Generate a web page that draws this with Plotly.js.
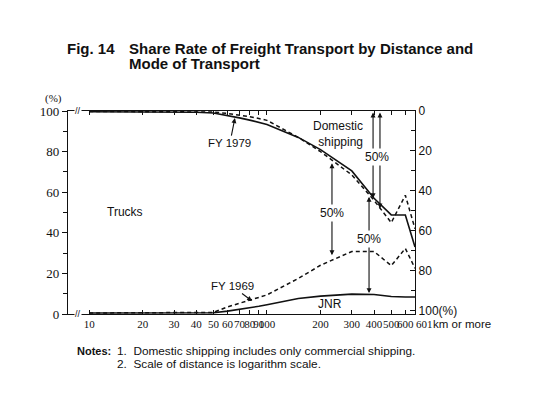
<!DOCTYPE html>
<html><head><meta charset="utf-8">
<script src="https://cdn.plot.ly/plotly-3.0.1.min.js"></script>
<style>html,body{margin:0;padding:0;background:#fff}</style>
</head><body><div id="chart" style="width:536px;height:398px"></div>
<script>
// Distance classes (km); the last value stands for the "601 km or more" class
const distanceKm = [10,20,30,40,50,60,70,80,90,100,150,200,300,400,500,600,680];
// Upper boundary = trucks + JNR share (i.e. 100 - domestic shipping share), %
const upper1979 = [99.6,99.6,99.5,99.4,99.0,97.8,96.6,95.5,94.5,93.4,87.0,81.0,70.5,57.0,48.8,48.8,33.0];
const upper1969 = [99.8,99.8,99.8,99.7,99.5,98.8,98.0,97.2,96.3,95.4,87.0,80.0,68.5,56.0,45.0,58.5,42.0];
// Lower boundary = JNR share, %
const jnr1979 = [0.5,0.5,0.5,0.5,0.6,1.4,2.2,3.0,3.8,4.6,7.6,8.8,9.8,9.6,8.6,8.4,8.4];
const jnr1969 = [0.5,0.5,0.5,0.5,0.8,3.5,5.3,6.9,8.2,9.4,17.5,24.0,30.8,30.8,23.8,32.3,22.5];

const xTickVals = [10,20,30,40,50,60,70,80,90,100,200,300,400,500,600,680];
const xTickText = ['10','20','30','40','50','60','70','80','90','100','200','300','400','500','600',''];
const lastClassLabel = '601';
const leftTickVals = [0,20,40,60,80,100];
const rightTickVals = [0,20,40,60,80,100];
const rightTickText = ['0','20','40','60','80','100(%)'];

const L = Math.log10;
const SANS = 'Liberation Sans, Arial, sans-serif';
const SERIF = 'Liberation Serif, Times New Roman, serif';
const px = (p) => (p - 68) / 347;          // pixel -> paper x
const py = (p) => (314 - p) / 203;         // pixel -> paper y

const solid = {color:'#111', width:1.6};
const dashed = {color:'#111', width:1.5, dash:'4px,3px'};
const traces = [
  {x:distanceKm, y:upper1979, mode:'lines', line:solid, name:'FY 1979 upper'},
  {x:distanceKm, y:upper1969, mode:'lines', line:dashed, name:'FY 1969 upper'},
  {x:distanceKm, y:jnr1979, mode:'lines', line:solid, name:'FY 1979 JNR'},
  {x:distanceKm, y:jnr1969, mode:'lines', line:dashed, name:'FY 1969 JNR'},
  {x:[distanceKm[0]], y:[0], yaxis:'y2', mode:'markers', marker:{opacity:0}, hoverinfo:'skip'}
];

function arrow(x, yTip, yTail){
  return {x:L(x), y:yTip, ax:L(x), ay:yTail, xref:'x', yref:'y', axref:'x', ayref:'y',
    text:'', showarrow:true, arrowhead:2, startarrowhead:2, arrowside:'end+start',
    arrowsize:0.9, startarrowsize:0.9, arrowwidth:1.1, arrowcolor:'#111'};
}
function label(x, y, t){
  return {x:L(x), y:y, xref:'x', yref:'y', xanchor:'center', yanchor:'middle', text:t, showarrow:false,
    bgcolor:'#fff', borderpad:1, font:{family:SANS, size:12, color:'#111'}};
}
function ptext(x, y, t, font, xanchor){
  return {x:px(x), y:py(y), xref:'paper', yref:'paper', xanchor:xanchor||'left', yanchor:'middle',
    text:t, showarrow:false, font:font};
}

const fTitle = {family:SANS, size:15, color:'#111'};
const fNote = {family:SANS, size:11.8, color:'#111'};
const fLab = {family:SANS, size:12, color:'#111'};

const annotations = [
  arrow(395, 57, 100),
  arrow(432, 52, 100),
  arrow(232, 29, 75),
  arrow(375, 10.3, 58.5),
  label(416, 77.3, '50%'),
  label(232, 49.8, '50%'),
  label(375, 36.9, '50%'),
  {x:L(66), y:96.5, xref:'x', yref:'y', text:'FY 1979', showarrow:true, ax:-5, ay:25,
    arrowhead:2, arrowsize:0.9, arrowwidth:1.1, arrowcolor:'#111', font:{family:SANS, size:11.5, color:'#111'}},
  {x:L(82.4), y:6.4, xref:'x', yref:'y', text:'FY 1969', showarrow:true, ax:-20, ay:-15,
    arrowhead:2, arrowsize:0.9, arrowwidth:1.1, arrowcolor:'#111', font:{family:SANS, size:11.5, color:'#111'}},
  ptext(125, 212, 'Trucks', fLab, 'center'),
  ptext(330, 304, 'JNR', fLab, 'center'),
  {x:px(365), y:py(134), xref:'paper', yref:'paper', xanchor:'right', yanchor:'middle', align:'right',
    text:'Domestic<br>shipping', showarrow:false, font:fLab},
  // axis break marks
  {x:L(8.6), y:0, xref:'x', yref:'y', yanchor:'middle', text:'//', showarrow:false, bgcolor:'#fff', borderpad:0, font:{family:SANS, size:9, color:'#111'}},
  {x:L(8.6), y:100, xref:'x', yref:'y', yanchor:'middle', text:'//', showarrow:false, bgcolor:'#fff', borderpad:0, font:{family:SANS, size:9, color:'#111'}},
  // unit labels
  ptext(53, 98, '(%)', {family:SERIF, size:11, color:'#111'}, 'center'),
  ptext(414, 324, lastClassLabel, {family:SERIF, size:11, color:'#111'}, 'left'),
  ptext(431, 324, 'km or more', {family:SANS, size:11.5, color:'#111'}, 'left'),
  // title
  ptext(65, 48, '<b>Fig. 14</b>', fTitle, 'left'),
  ptext(127, 48, '<b>Share Rate of Freight Transport by Distance and</b>', fTitle, 'left'),
  ptext(127, 64, '<b>Mode of Transport</b>', fTitle, 'left'),
  // notes
  ptext(75, 351, '<b>Notes:</b>', {family:SANS, size:11, color:'#111'}, 'left'),
  ptext(115, 351, '1.  Domestic shipping includes only commercial shipping.', fNote, 'left'),
  ptext(115, 364, '2.  Scale of distance is logarithm scale.', fNote, 'left')
];

const layout = {
  width:536, height:398, margin:{l:68, r:121, t:111, b:84},
  paper_bgcolor:'#fff', plot_bgcolor:'#fff', showlegend:false,
  xaxis:{type:'log', range:[L(7.6), L(680)], tickvals:xTickVals, ticktext:xTickText, tickangle:0,
    ticks:'inside', ticklen:4, tickcolor:'#111', showline:true, linecolor:'#111', linewidth:1.2,
    mirror:'ticks', showgrid:false, zeroline:false, tickfont:{family:SERIF, size:11, color:'#111'}},
  yaxis:{range:[0,100], tickvals:leftTickVals, ticks:'outside', ticklen:5, tickcolor:'#111',
    minor:{dtick:10, ticks:'outside', ticklen:4, tickcolor:'#111', showgrid:false},
    showline:true, linecolor:'#111', linewidth:1.2, showgrid:false, zeroline:false,
    tickfont:{family:SERIF, size:13, color:'#111'}},
  yaxis2:{range:[101.8,0], overlaying:'y', side:'right', tickvals:rightTickVals, ticktext:rightTickText,
    ticks:'inside', ticklen:5, tickcolor:'#111',
    minor:{dtick:10, ticks:'inside', ticklen:4, tickcolor:'#111', showgrid:false},
    showline:true, linecolor:'#111', linewidth:1.2, showgrid:false, zeroline:false,
    tickfont:{family:SANS, size:12, color:'#111'}},
  annotations:annotations
};

Plotly.newPlot('chart', traces, layout, {displayModeBar:false, staticPlot:true});
</script>
</body></html>
